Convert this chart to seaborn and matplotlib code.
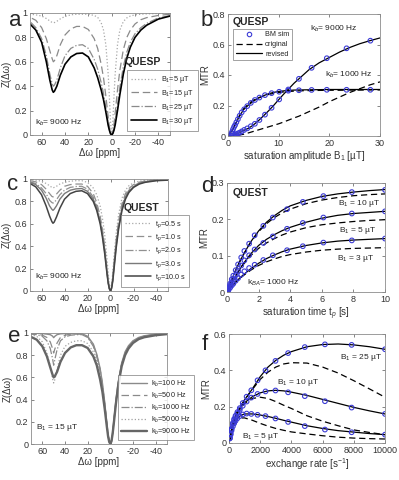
import matplotlib
matplotlib.use("Agg")
import matplotlib.pyplot as plt
import seaborn as sns
from matplotlib.lines import Line2D

# --- dados -----------------------------------------------------------------
# offsets (ppm) usados em todos os Z-espectros
dw = [70, 65, 60, 56, 53, 51, 50, 49, 47, 44, 40, 35, 30, 25, 20, 15, 12, 9, 7, 5, 3, 2, 1, 0,
      -1, -2, -3, -5, -7, -10, -13, -16, -20, -25, -30, -40, -50]

# painel a: QUESP, kb = 9000 Hz
a_labels = ["B$_1$=5 µT", "B$_1$=15 µT", "B$_1$=25 µT", "B$_1$=30 µT"]
z_a_b5 = [0.99, 0.985, 0.975, 0.955, 0.935, 0.922, 0.92, 0.922, 0.932, 0.952, 0.972, 0.985, 0.99, 0.99, 0.99, 0.98,
          0.965, 0.92, 0.86, 0.74, 0.50, 0.32, 0.11, 0.0, 0.11, 0.32, 0.50, 0.74, 0.86, 0.93, 0.96, 0.975, 0.985,
          0.99, 0.993, 0.996, 0.998]
z_a_b15 = [0.965, 0.94, 0.88, 0.79, 0.69, 0.625, 0.60, 0.61, 0.65, 0.74, 0.82, 0.87, 0.89, 0.89, 0.865, 0.79, 0.71,
           0.58, 0.47, 0.32, 0.15, 0.07, 0.02, 0.0, 0.025, 0.09, 0.18, 0.37, 0.53, 0.70, 0.80, 0.86, 0.91, 0.945,
           0.962, 0.98, 0.99]
z_a_b25 = [0.93, 0.88, 0.79, 0.65, 0.50, 0.42, 0.40, 0.41, 0.45, 0.55, 0.65, 0.71, 0.735, 0.74, 0.71, 0.62, 0.54,
           0.43, 0.34, 0.23, 0.10, 0.05, 0.013, 0.0, 0.015, 0.05, 0.11, 0.25, 0.39, 0.56, 0.68, 0.76, 0.83, 0.88,
           0.915, 0.96, 0.978]
z_a_b30 = [0.91, 0.86, 0.76, 0.60, 0.45, 0.37, 0.35, 0.36, 0.40, 0.49, 0.58, 0.64, 0.668, 0.672, 0.64, 0.55, 0.47,
           0.37, 0.29, 0.19, 0.08, 0.04, 0.01, 0.0, 0.012, 0.04, 0.083, 0.20, 0.33, 0.50, 0.63, 0.72, 0.80, 0.86,
           0.90, 0.95, 0.975]

# painel b: QUESP, MTR vs B1
b1_sim = [0.7, 0.85, 1.0, 1.2, 1.4, 1.65, 1.95, 2.3, 2.7, 3.2, 3.8, 4.5, 5.3, 6.2, 7.3, 8.6, 10.1, 11.9, 14.0,
          16.5, 19.5, 23.4, 28.1]
sim_kb1000 = [0.018, 0.03, 0.045, 0.06, 0.072, 0.09, 0.11, 0.133, 0.155, 0.175, 0.196, 0.217, 0.236, 0.252, 0.268,
              0.281, 0.29, 0.297, 0.30, 0.302, 0.303, 0.303, 0.303]
sim_kb9000 = [0.002, 0.003, 0.004, 0.006, 0.009, 0.012, 0.017, 0.022, 0.03, 0.04, 0.05, 0.064, 0.08, 0.105, 0.14,
              0.185, 0.24, 0.305, 0.375, 0.447, 0.51, 0.575, 0.625]
b1_line = [0, 1, 2, 3, 4, 5, 6, 7, 8, 9, 10, 11, 12, 13, 14, 16, 18, 20, 22, 24, 26, 28, 30]
rev_kb9000 = [0, 0.004, 0.017, 0.035, 0.05, 0.072, 0.10, 0.132, 0.165, 0.20, 0.238, 0.275, 0.31, 0.345, 0.375,
              0.435, 0.48, 0.515, 0.55, 0.58, 0.605, 0.625, 0.643]
orig_kb9000 = [0, 0.001, 0.005, 0.011, 0.02, 0.03, 0.04, 0.05, 0.06, 0.07, 0.08, 0.092, 0.105, 0.118, 0.13, 0.16,
               0.19, 0.225, 0.255, 0.285, 0.31, 0.335, 0.355]
rev_kb1000 = [0, 0.045, 0.113, 0.17, 0.202, 0.228, 0.249, 0.264, 0.277, 0.286, 0.292, 0.296, 0.299, 0.301, 0.302,
              0.303, 0.304, 0.305, 0.305, 0.305, 0.305, 0.305, 0.305]
orig_kb1000 = [0, 0.05, 0.12, 0.175, 0.21, 0.235, 0.25, 0.262, 0.272, 0.279, 0.285, 0.289, 0.292, 0.294, 0.296,
               0.298, 0.299, 0.30, 0.30, 0.301, 0.301, 0.302, 0.302]

# painel c: QUEST, kb = 9000 Hz
c_labels = ["t$_p$=0.5 s", "t$_p$=1.0 s", "t$_p$=2.0 s", "t$_p$=3.0 s", "t$_p$=10.0 s"]
z_c_05 = [0.995, 0.99, 0.98, 0.96, 0.94, 0.925, 0.92, 0.925, 0.935, 0.955, 0.97, 0.98, 0.985, 0.985, 0.97, 0.92,
          0.86, 0.76, 0.65, 0.50, 0.28, 0.16, 0.06, 0.02, 0.06, 0.17, 0.30, 0.52, 0.68, 0.83, 0.90, 0.94, 0.965,
          0.98, 0.988, 0.995, 0.998]
z_c_1 = [0.985, 0.975, 0.95, 0.91, 0.87, 0.845, 0.84, 0.845, 0.865, 0.90, 0.935, 0.95, 0.955, 0.955, 0.935, 0.87,
         0.79, 0.67, 0.55, 0.40, 0.20, 0.10, 0.03, 0.005, 0.04, 0.13, 0.25, 0.46, 0.62, 0.78, 0.87, 0.915, 0.95,
         0.972, 0.982, 0.992, 0.996]
z_c_2 = [0.975, 0.96, 0.92, 0.87, 0.81, 0.79, 0.785, 0.79, 0.815, 0.86, 0.90, 0.925, 0.933, 0.935, 0.91, 0.84,
         0.76, 0.64, 0.52, 0.37, 0.17, 0.08, 0.022, 0.002, 0.03, 0.11, 0.22, 0.43, 0.59, 0.76, 0.85, 0.90, 0.94,
         0.965, 0.978, 0.99, 0.995]
z_c_3 = [0.97, 0.95, 0.90, 0.83, 0.76, 0.73, 0.72, 0.73, 0.76, 0.82, 0.87, 0.90, 0.912, 0.915, 0.89, 0.82, 0.74,
         0.62, 0.50, 0.35, 0.16, 0.075, 0.02, 0.0, 0.03, 0.10, 0.21, 0.41, 0.57, 0.74, 0.84, 0.89, 0.93, 0.96,
         0.975, 0.988, 0.993]
z_c_10 = [0.96, 0.93, 0.86, 0.76, 0.67, 0.62, 0.605, 0.615, 0.66, 0.74, 0.82, 0.87, 0.89, 0.895, 0.87, 0.80, 0.72,
          0.60, 0.48, 0.33, 0.15, 0.07, 0.02, 0.0, 0.025, 0.09, 0.19, 0.39, 0.55, 0.72, 0.82, 0.88, 0.925, 0.955,
          0.97, 0.985, 0.99]

# painel d: QUEST, MTR vs tp (kBA = 1000 Hz)
tp_sim = [0.05, 0.1, 0.2, 0.3, 0.4, 0.55, 0.7, 0.9, 1.1, 1.4, 1.75, 2.3, 2.9, 3.8, 4.8, 6.1, 7.9, 10.0]
sim_d_b10 = [0.008, 0.013, 0.023, 0.035, 0.045, 0.06, 0.076, 0.095, 0.113, 0.133, 0.156, 0.182, 0.205, 0.228,
             0.248, 0.264, 0.275, 0.281]
sim_d_b5 = [0.005, 0.01, 0.018, 0.027, 0.035, 0.046, 0.058, 0.073, 0.087, 0.101, 0.117, 0.135, 0.153, 0.174, 0.19,
            0.205, 0.216, 0.222]
sim_d_b3 = [0.003, 0.006, 0.012, 0.018, 0.023, 0.031, 0.038, 0.048, 0.057, 0.066, 0.075, 0.088, 0.101, 0.115,
            0.126, 0.136, 0.142, 0.147]
tp_line = [0, 0.25, 0.5, 0.75, 1, 1.5, 2, 2.5, 3, 3.5, 4, 5, 6, 7, 8, 9, 10]
rev_d_b10 = [0, 0.028, 0.055, 0.079, 0.10, 0.138, 0.168, 0.192, 0.21, 0.225, 0.237, 0.252, 0.263, 0.27, 0.275,
             0.279, 0.282]
orig_d_b10 = [0, 0.028, 0.055, 0.079, 0.10, 0.137, 0.166, 0.188, 0.205, 0.218, 0.228, 0.243, 0.253, 0.26, 0.265,
              0.268, 0.27]
rev_d_b5 = [0, 0.021, 0.04, 0.059, 0.076, 0.105, 0.128, 0.145, 0.158, 0.169, 0.178, 0.192, 0.203, 0.211, 0.216,
            0.219, 0.222]
orig_d_b5 = [0, 0.021, 0.04, 0.058, 0.074, 0.1, 0.12, 0.135, 0.147, 0.157, 0.165, 0.177, 0.185, 0.19, 0.194,
             0.197, 0.199]
rev_d_b3 = [0, 0.013, 0.025, 0.036, 0.046, 0.064, 0.079, 0.092, 0.102, 0.111, 0.118, 0.128, 0.135, 0.14, 0.143,
            0.145, 0.147]
orig_d_b3 = [0, 0.013, 0.025, 0.035, 0.044, 0.06, 0.073, 0.083, 0.091, 0.098, 0.103, 0.11, 0.115, 0.118, 0.12,
             0.121, 0.122]

# painel e: B1 = 15 uT, varios kb
e_labels = ["k$_b$=100 Hz", "k$_b$=500 Hz", "k$_b$=1000 Hz", "k$_b$=5000 Hz", "k$_b$=9000 Hz"]
z_e_100 = [0.998, 0.997, 0.995, 0.99, 0.985, 0.972, 0.958, 0.97, 0.985, 0.993, 0.995, 0.995, 0.995, 0.993, 0.97,
           0.90, 0.81, 0.68, 0.55, 0.38, 0.18, 0.085, 0.022, 0.0, 0.028, 0.10, 0.20, 0.40, 0.56, 0.73, 0.83, 0.885,
           0.93, 0.96, 0.975, 0.99, 0.995]
z_e_500 = [0.995, 0.99, 0.98, 0.96, 0.92, 0.86, 0.82, 0.855, 0.91, 0.96, 0.98, 0.99, 0.99, 0.99, 0.965, 0.89, 0.80,
           0.67, 0.54, 0.37, 0.175, 0.083, 0.021, 0.0, 0.027, 0.097, 0.195, 0.39, 0.55, 0.72, 0.82, 0.88, 0.925,
           0.955, 0.972, 0.988, 0.994]
z_e_1000 = [0.99, 0.985, 0.97, 0.93, 0.86, 0.77, 0.71, 0.76, 0.85, 0.93, 0.965, 0.98, 0.985, 0.985, 0.96, 0.88,
            0.79, 0.66, 0.53, 0.36, 0.17, 0.08, 0.02, 0.0, 0.026, 0.095, 0.19, 0.385, 0.545, 0.715, 0.815, 0.875,
            0.92, 0.952, 0.97, 0.986, 0.993]
z_e_5000 = [0.985, 0.97, 0.92, 0.82, 0.70, 0.59, 0.55, 0.58, 0.67, 0.80, 0.88, 0.915, 0.93, 0.93, 0.905, 0.83,
            0.75, 0.62, 0.50, 0.34, 0.16, 0.075, 0.02, 0.0, 0.025, 0.092, 0.185, 0.375, 0.535, 0.705, 0.805, 0.865,
            0.915, 0.948, 0.966, 0.983, 0.992]
z_e_9000 = [0.965, 0.94, 0.88, 0.79, 0.69, 0.625, 0.60, 0.61, 0.65, 0.74, 0.82, 0.87, 0.89, 0.89, 0.865, 0.79,
            0.71, 0.58, 0.47, 0.32, 0.15, 0.07, 0.02, 0.0, 0.025, 0.09, 0.18, 0.37, 0.53, 0.70, 0.80, 0.86, 0.91,
            0.945, 0.962, 0.98, 0.99]

# painel f: MTR vs taxa de troca
kb_sim = [50, 100, 160, 250, 330, 420, 540, 690, 880, 1130, 1430, 1830, 2340, 2980, 3790, 4860, 6150, 7860, 10000]
sim_f_b25 = [0.028, 0.052, 0.078, 0.11, 0.132, 0.15, 0.17, 0.192, 0.22, 0.255, 0.29, 0.345, 0.40, 0.452, 0.495,
             0.528, 0.543, 0.54, 0.516]
sim_f_b10 = [0.027, 0.05, 0.075, 0.105, 0.125, 0.143, 0.163, 0.183, 0.205, 0.228, 0.25, 0.27, 0.284, 0.289, 0.279,
             0.258, 0.23, 0.195, 0.16]
sim_f_b5 = [0.025, 0.045, 0.068, 0.092, 0.108, 0.122, 0.136, 0.148, 0.157, 0.162, 0.16, 0.155, 0.148, 0.135, 0.116,
            0.093, 0.074, 0.059, 0.046]
kb_line = [0, 250, 500, 750, 1000, 1500, 2000, 2500, 3000, 3500, 4000, 5000, 6000, 7000, 8000, 9000, 10000]
rev_f_b25 = [0, 0.11, 0.165, 0.203, 0.238, 0.298, 0.365, 0.418, 0.455, 0.483, 0.503, 0.53, 0.542, 0.545, 0.54,
             0.53, 0.516]
orig_f_b25 = [0, 0.11, 0.165, 0.203, 0.237, 0.295, 0.35, 0.39, 0.418, 0.435, 0.442, 0.44, 0.418, 0.385, 0.343,
              0.298, 0.252]
rev_f_b10 = [0, 0.105, 0.16, 0.195, 0.222, 0.255, 0.276, 0.287, 0.29, 0.287, 0.28, 0.262, 0.24, 0.218, 0.196,
             0.177, 0.16]
orig_f_b10 = [0, 0.105, 0.16, 0.193, 0.218, 0.245, 0.252, 0.245, 0.228, 0.208, 0.19, 0.15, 0.12, 0.095, 0.072,
              0.058, 0.046]
rev_f_b5 = [0, 0.092, 0.132, 0.152, 0.16, 0.16, 0.154, 0.146, 0.136, 0.125, 0.115, 0.095, 0.08, 0.068, 0.06,
            0.052, 0.046]
orig_f_b5 = [0, 0.092, 0.128, 0.138, 0.138, 0.125, 0.108, 0.093, 0.08, 0.07, 0.061, 0.05, 0.04, 0.032, 0.027,
             0.024, 0.022]

# --- estilo -----------------------------------------------------------------
sns.set_style("ticks")
plt.rcParams['font.family'] = ['Liberation Sans', 'DejaVu Sans']
plt.rcParams['axes.unicode_minus'] = False
plt.rcParams['mathtext.fontset'] = 'custom'
plt.rcParams['mathtext.rm'] = 'Liberation Sans'
plt.rcParams['mathtext.it'] = 'Liberation Sans:italic'

BLUE = '#3b3bd6'
EDGE = '#8c8c8c'


def style_ax(ax):
    for s in ax.spines.values():
        s.set_color(EDGE)
        s.set_linewidth(0.6)
    ax.tick_params(direction='in', length=2.5, width=0.5, color='#555555', labelsize=6.5,
                   labelcolor='#333333', top=True, right=True, pad=2)


def z_axes(ax):
    ax.set_xlim(70, -50)
    ax.set_ylim(0, 1)
    ax.set_xticks([60, 40, 20, 0, -20, -40])
    ax.set_yticks([0, 0.2, 0.4, 0.6, 0.8, 1])
    ax.set_yticklabels(['0', '0.2', '0.4', '0.6', '0.8', '1'])
    ax.set_xlabel('Δω [ppm]', fontsize=7, labelpad=1, color='#333333')
    ax.set_ylabel('Z(Δω)', fontsize=7, labelpad=2, color='#333333')
    style_ax(ax)


def z_legend(ax, handles, labels, anchor, spacing=0.4, pad=0.6):
    leg = ax.legend(handles, labels, loc='upper left', bbox_to_anchor=anchor, fontsize=5.2, frameon=True,
                    fancybox=False, edgecolor='#777777', handlelength=3.6, handletextpad=0.5,
                    labelspacing=spacing, borderpad=pad, borderaxespad=0)
    leg.get_frame().set_linewidth(0.6)
    leg.set_clip_on(False)


def mtr_lines(ax, x_sim, y_sim, x_line, y_rev, y_orig):
    sns.lineplot(x=x_line, y=y_orig, ax=ax, color='black', linestyle=(0, (5, 3)), linewidth=0.9, legend=False)
    sns.lineplot(x=x_line, y=y_rev, ax=ax, color='black', linewidth=0.9, legend=False)
    sns.scatterplot(x=x_sim, y=y_sim, ax=ax, color=BLUE, edgecolor=BLUE, s=11, linewidth=0.8, legend=False,
                    zorder=5)
    ax.collections[-1].set_facecolor('none')


fig = plt.figure(figsize=(3.99, 4.8), dpi=100)
W, H = 399.0, 480.0


def add_ax(l, t, r, b):
    return fig.add_axes([l / W, 1 - b / H, (r - l) / W, (b - t) / H])


ax_a = add_ax(30, 13, 170, 135)
ax_b = add_ax(228, 14, 380, 136)
ax_c = add_ax(30, 179, 168, 291)
ax_d = add_ax(227, 183, 385, 292)
ax_e = add_ax(31, 333, 167, 444)
ax_f = add_ax(229, 334, 385, 443)

# a
a_styles = [dict(color='#a8a8a8', linestyle=':', linewidth=0.9),
            dict(color='#8a8a8a', linestyle=(0, (6, 3)), linewidth=0.9),
            dict(color='#8a8a8a', linestyle='-.', linewidth=0.9),
            dict(color='black', linestyle='-', linewidth=1.2)]
for z, st in zip([z_a_b5, z_a_b15, z_a_b25, z_a_b30], a_styles):
    sns.lineplot(x=dw, y=z, ax=ax_a, legend=False, **st)
z_axes(ax_a)
z_legend(ax_a, [Line2D([], [], **st) for st in a_styles], a_labels, (0.69, 0.535))
ax_a.text(-27, 0.60, 'QUESP', fontsize=7.5, fontweight='bold', ha='center', va='center')
ax_a.text(66, 0.10, 'k$_b$= 9000 Hz', fontsize=6, va='center')

# b
mtr_lines(ax_b, b1_sim, sim_kb9000, b1_line, rev_kb9000, orig_kb9000)
mtr_lines(ax_b, b1_sim, sim_kb1000, b1_line, rev_kb1000, orig_kb1000)
ax_b.set_xlim(0, 30)
ax_b.set_ylim(0, 0.8)
ax_b.set_xticks([0, 10, 20, 30])
ax_b.set_yticks([0, 0.2, 0.4, 0.6, 0.8])
ax_b.set_yticklabels(['0', '0.2', '0.4', '0.6', '0.8'])
ax_b.set_xlabel('saturation amplitude B$_1$ [µT]', fontsize=7, labelpad=1, color='#333333')
ax_b.set_ylabel('MTR', fontsize=7, labelpad=2, color='#333333')
style_ax(ax_b)
b_handles = [Line2D([], [], linestyle='none', marker='o', markersize=3.2, mfc='none', mec=BLUE, mew=0.8),
             Line2D([], [], color='black', linestyle=(0, (5, 3)), linewidth=0.9),
             Line2D([], [], color='black', linewidth=0.9)]
leg = ax_b.legend(b_handles, ['BM sim', 'original', 'revised'], loc='upper left', bbox_to_anchor=(0.033, 0.878),
                  fontsize=5.2, frameon=True, fancybox=False, edgecolor='#777777', handlelength=3.6,
                  handletextpad=0.5, labelspacing=0.35, borderpad=0.35, borderaxespad=0)
leg.get_frame().set_linewidth(0.6)
ax_b.text(0.9, 0.745, 'QUESP', fontsize=7.5, fontweight='bold', va='center')
ax_b.text(16.1, 0.70, 'k$_b$= 9000 Hz', fontsize=6, va='center')
ax_b.text(19.1, 0.40, 'k$_b$= 1000 Hz', fontsize=6, va='center')

# c
c_styles = [dict(color='#a8a8a8', linestyle=':', linewidth=0.9),
            dict(color='#909090', linestyle=(0, (6, 3)), linewidth=0.9),
            dict(color='#909090', linestyle='-.', linewidth=0.9),
            dict(color='#7a7a7a', linestyle='-', linewidth=1.0),
            dict(color='#444444', linestyle='-', linewidth=1.1)]
for z, st in zip([z_c_05, z_c_1, z_c_2, z_c_3, z_c_10], c_styles):
    sns.lineplot(x=dw, y=z, ax=ax_c, legend=False, **st)
z_axes(ax_c)
z_legend(ax_c, [Line2D([], [], **st) for st in c_styles], c_labels, (0.66, 0.68), spacing=0.35, pad=0.55)
ax_c.text(-27, 0.74, 'QUEST', fontsize=7.5, fontweight='bold', ha='center', va='center')
ax_c.text(66, 0.125, 'k$_b$= 9000 Hz', fontsize=6, va='center')

# d
mtr_lines(ax_d, tp_sim, sim_d_b10, tp_line, rev_d_b10, orig_d_b10)
mtr_lines(ax_d, tp_sim, sim_d_b5, tp_line, rev_d_b5, orig_d_b5)
mtr_lines(ax_d, tp_sim, sim_d_b3, tp_line, rev_d_b3, orig_d_b3)
ax_d.set_xlim(0, 10)
ax_d.set_ylim(0, 0.3)
ax_d.set_xticks([0, 2, 4, 6, 8, 10])
ax_d.set_yticks([0, 0.1, 0.2, 0.3])
ax_d.set_yticklabels(['0', '0.1', '0.2', '0.3'])
ax_d.set_xlabel('saturation time t$_p$ [s]', fontsize=7, labelpad=1, color='#333333')
ax_d.set_ylabel('MTR', fontsize=7, labelpad=2, color='#333333')
style_ax(ax_d)
ax_d.text(0.36, 0.272, 'QUEST', fontsize=7.5, fontweight='bold', va='center')
ax_d.text(7.0, 0.244, 'B$_1$ = 10 µT', fontsize=6, va='center')
ax_d.text(7.08, 0.17, 'B$_1$ = 5 µT', fontsize=6, va='center')
ax_d.text(6.96, 0.093, 'B$_1$ = 3 µT', fontsize=6, va='center')
ax_d.text(1.25, 0.024, 'k$_{BA}$= 1000 Hz', fontsize=6, va='center')

# e
e_styles = [dict(color='#8a8a8a', linestyle='-', linewidth=1.0),
            dict(color='#8a8a8a', linestyle=(0, (6, 3)), linewidth=0.9),
            dict(color='#8a8a8a', linestyle='-.', linewidth=0.9),
            dict(color='#a0a0a0', linestyle=':', linewidth=0.9),
            dict(color='#666666', linestyle='-', linewidth=1.7)]
for z, st in zip([z_e_100, z_e_500, z_e_1000, z_e_5000, z_e_9000], e_styles):
    sns.lineplot(x=dw, y=z, ax=ax_e, legend=False, **st)
z_axes(ax_e)
z_legend(ax_e, [Line2D([], [], **st) for st in e_styles], e_labels, (0.64, 0.62), spacing=0.25, pad=0.45)
ax_e.text(66, 0.145, 'B$_1$ = 15 µT', fontsize=6, va='center')

# f
mtr_lines(ax_f, kb_sim, sim_f_b25, kb_line, rev_f_b25, orig_f_b25)
mtr_lines(ax_f, kb_sim, sim_f_b10, kb_line, rev_f_b10, orig_f_b10)
mtr_lines(ax_f, kb_sim, sim_f_b5, kb_line, rev_f_b5, orig_f_b5)
ax_f.set_xlim(0, 10000)
ax_f.set_ylim(0, 0.6)
ax_f.set_xticks([0, 2000, 4000, 6000, 8000, 10000])
ax_f.set_yticks([0, 0.2, 0.4, 0.6])
ax_f.set_yticklabels(['0', '0.2', '0.4', '0.6'])
ax_f.set_xlabel('exchange rate [s$^{-1}$]', fontsize=7, labelpad=1, color='#333333')
ax_f.set_ylabel('MTR', fontsize=7, labelpad=2, color='#333333')
style_ax(ax_f)
ax_f.text(7110, 0.468, 'B$_1$ = 25 µT', fontsize=6, va='center')
ax_f.text(3060, 0.331, 'B$_1$ = 10 µT', fontsize=6, va='center')
ax_f.text(816, 0.035, 'B$_1$ = 5 µT', fontsize=6, va='center')

# letras dos paineis
for letter, px, py in [('a', 15, 20), ('b', 207, 20), ('c', 13, 184), ('d', 207, 187), ('e', 14, 336),
                       ('f', 205, 345)]:
    fig.text(px / W, 1 - py / H, letter, fontsize=16, ha='center', va='center')

fig.savefig('out.png', dpi=100)
